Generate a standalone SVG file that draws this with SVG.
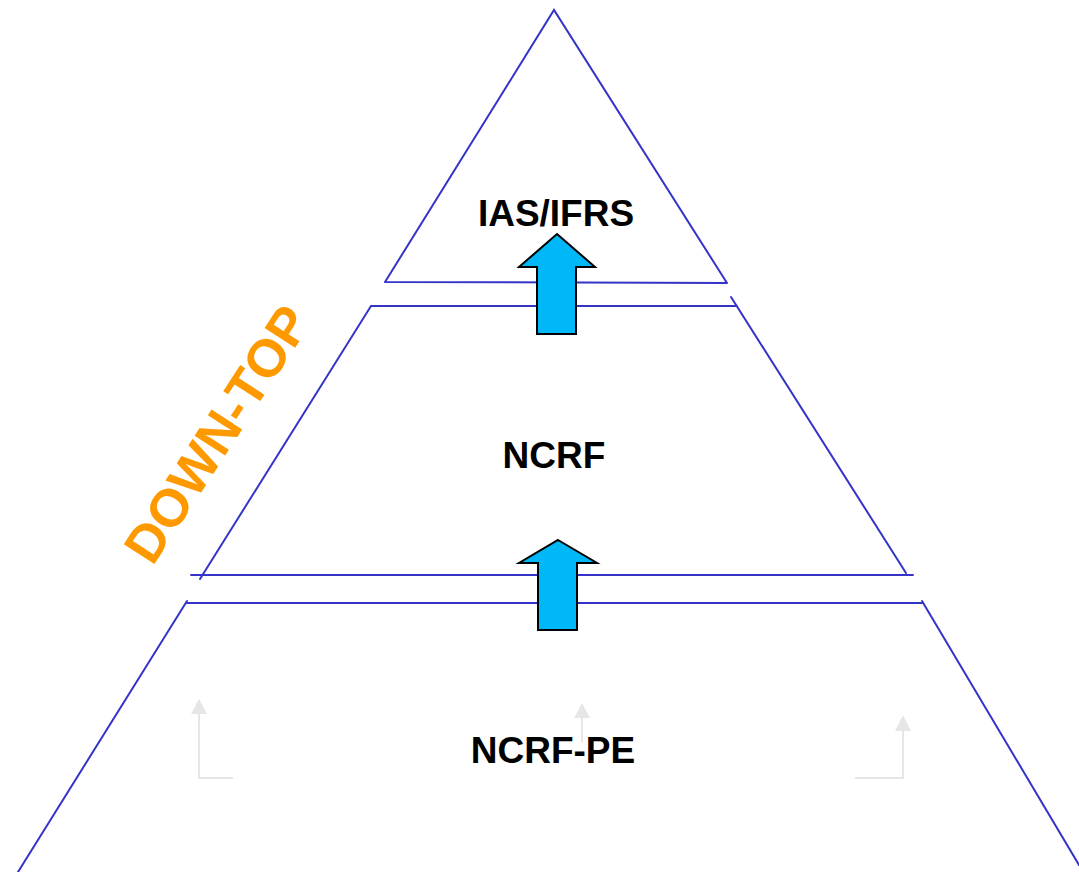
<svg xmlns="http://www.w3.org/2000/svg" width="1079" height="872" viewBox="0 0 1079 872">
<style>
.edge{stroke:#3434c8;stroke-width:2;fill:none;stroke-linecap:round}
.lbl{font-family:"Liberation Sans",Arial,sans-serif;font-weight:bold;font-size:37px;fill:#000;text-anchor:middle}
.up{fill:#00b8f8;stroke:#000;stroke-width:2;stroke-linejoin:miter}
.ghost{stroke:#e6e6e6;stroke-width:2;fill:none}
.ghosthead{fill:#e6e6e6}
</style>
<rect width="1079" height="872" fill="#fff"/>
<g id="top-tier">
<path class="edge" d="M385,282 L554,10 L727,283 M385,282 L727,283"/>
<text class="lbl" x="556" y="226">IAS/IFRS</text>
</g>
<g id="middle-tier">
<path class="edge" d="M371,306 L737,306 M371,306 L200,579 M731,297 L906,573 M191,575 L913,575"/>
<text class="lbl" x="554" y="468">NCRF</text>
</g>
<g id="bottom-tier">
<path class="edge" d="M187,603 L922,603 M187,601 L18,872 M922,601 L1079,865"/>
<g id="ghost-arrows">
<path class="ghost" d="M199,712 L199,778 L233,778"/>
<polygon class="ghosthead" points="199,699 191,714 207,714"/>
<path class="ghost" d="M582,716 L582,742"/>
<polygon class="ghosthead" points="582,703 574,718 590,718"/>
<path class="ghost" d="M903,729 L903,778 L855,778"/>
<polygon class="ghosthead" points="903,715 895,731 911,731"/>
</g>
<text class="lbl" x="553" y="763">NCRF-PE</text>
</g>
<g id="connectors">
<polygon class="up" points="557,234 595,267 576,267 576,334 537,334 537,267 519,267"/>
<polygon class="up" points="558,540 597,563 577,563 577,630 538,630 538,563 519,563"/>
</g>
<g id="down-top-label">
<text x="0" y="0" transform="translate(217,434) rotate(-57)" font-family="'Liberation Sans',Arial,sans-serif" font-weight="bold" font-size="53" fill="#ff9900" text-anchor="middle" dominant-baseline="central">DOWN-TOP</text>
</g>
</svg>
